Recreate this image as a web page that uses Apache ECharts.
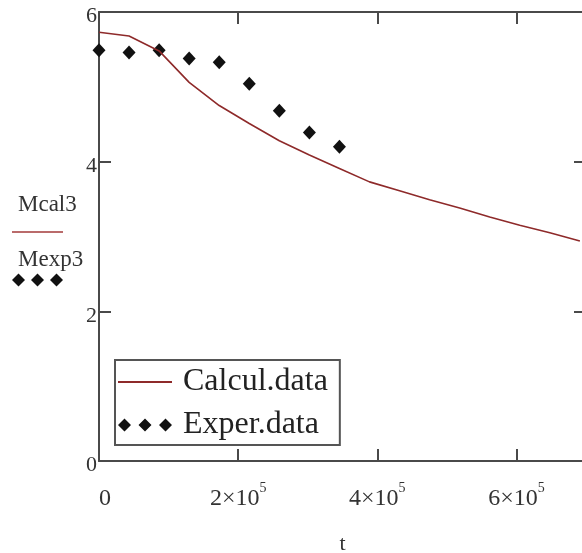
<!DOCTYPE html>
<html><head><meta charset="utf-8">
<script src="https://cdn.jsdelivr.net/npm/echarts@6/dist/echarts.min.js"></script>
<style>html,body{margin:0;padding:0;background:#fff}#c{width:582px;height:553px}</style>
</head><body><div id="c"></div>
<script>
// time values (s)
var calcT = [0, 43200, 86400, 129600, 172800, 216000, 259200, 302400, 345600, 388800, 432000, 475200, 518400, 561600, 604800, 648000, 691200];
var calcM = [5.73, 5.68, 5.48, 5.06, 4.75, 4.51, 4.28, 4.09, 3.91, 3.73, 3.61, 3.49, 3.38, 3.26, 3.15, 3.05, 2.94];
var expT = [0, 43200, 86400, 129600, 172800, 216000, 259200, 302400, 345600];
var expM = [5.49, 5.46, 5.49, 5.38, 5.33, 5.04, 4.68, 4.39, 4.20];
var xTicks = [0, 200000, 400000, 600000];
var yTicks = [0, 2, 4, 6];
var seriesNames = ['Calcul.data', 'Exper.data'];

var FONT = '"Liberation Serif", "DejaVu Serif", serif';
var AX = '#4a4a4a';
var diamonds3 = 'path://M0,6.5L6.5,0L13,6.5L6.5,13Z M20.5,6.5L27,0L33.5,6.5L27,13Z M41,6.5L47.5,0L54,6.5L47.5,13Z';
var lineIcon = 'path://M0,0H54V1.8H0Z';

function zip(a, b) { return a.map(function (v, i) { return [v, b[i]]; }); }
function diamond(cx, cy, r) {
  return {type: 'polygon', shape: {points: [[cx - r, cy], [cx, cy - r], [cx + r, cy], [cx, cy + r]]}, style: {fill: '#111'}};
}

var chart = echarts.init(document.getElementById('c'), null, {renderer: 'canvas'});
var axisCommon = {
  axisLine: {show: true, onZero: false, lineStyle: {color: AX, width: 2}},
  axisTick: {show: true, inside: true, length: 12, lineStyle: {color: AX, width: 2}},
  splitLine: {show: false}
};
chart.setOption({
  animation: false,
  grid: {left: 99, top: 12, width: 487, bottom: 92, containLabel: false, outerBoundsMode: 'none'},
  xAxis: [
    Object.assign({}, axisCommon, {
      type: 'value', min: 0, max: 700000, interval: 200000, position: 'bottom',
      name: 't', nameLocation: 'middle', nameGap: 72,
      nameTextStyle: {fontFamily: FONT, fontSize: 22, color: '#333'},
      axisLabel: {
        margin: 20, color: '#333', fontFamily: FONT,
        formatter: function (v) {
          if (xTicks.indexOf(v) < 0) return '';
          if (v === 0) return '{z|0}';
          return '{b|' + (v / 100000) + '×10}{s|5}';
        },
        rich: {
          z: {fontFamily: FONT, fontSize: 24, color: '#333', verticalAlign: 'bottom', lineHeight: 30, padding: [0, 0, 0, 12]},
          b: {fontFamily: FONT, fontSize: 24, color: '#333', verticalAlign: 'bottom', lineHeight: 30},
          s: {fontFamily: FONT, fontSize: 14, color: '#333', verticalAlign: 'top', lineHeight: 30}
        }
      }
    }),
    Object.assign({}, axisCommon, {
      type: 'value', min: 0, max: 700000, interval: 200000, position: 'top',
      axisLabel: {show: false}
    })
  ],
  yAxis: [
    Object.assign({}, axisCommon, {
      type: 'value', min: 0, max: 6, interval: 2, position: 'left',
      axisLabel: {
        margin: 2, color: '#333', fontFamily: FONT, fontSize: 22,
        verticalAlign: 'top', lineHeight: 9,
        formatter: function (v) { return yTicks.indexOf(v) >= 0 ? String(v) : ''; }
      }
    }),
    Object.assign({}, axisCommon, {
      type: 'value', min: 0, max: 6, interval: 2, position: 'right',
      axisLabel: {show: false}
    })
  ],
  legend: {
    orient: 'vertical', left: 115, top: 360,
    padding: [6, 12, 4, 3],
    borderColor: '#555', borderWidth: 2,
    itemWidth: 54, itemHeight: 15, itemGap: 11,
    textStyle: {fontFamily: FONT, fontSize: 32, color: '#222', padding: [0, 0, 0, 6]},
    data: [
      {name: seriesNames[0], icon: lineIcon},
      {name: seriesNames[1], icon: diamonds3, itemStyle: {color: '#111', opacity: 1}}
    ]
  },
  graphic: [
    {type: 'text', x: 18, y: 193, style: {text: 'Mcal3', font: '23px ' + FONT, fill: '#333'}},
    {type: 'line', shape: {x1: 12, y1: 232, x2: 63, y2: 232}, style: {stroke: '#a33a3a', lineWidth: 1.5}},
    {type: 'text', x: 18, y: 248, style: {text: 'Mexp3', font: '23px ' + FONT, fill: '#333'}},
    diamond(18.5, 280, 6.5), diamond(37.5, 280, 6.5), diamond(56.5, 280, 6.5)
  ],
  series: [
    {
      name: seriesNames[0], type: 'line', data: zip(calcT, calcM),
      showSymbol: false, symbol: 'none',
      lineStyle: {color: '#8e2a2a', width: 1.6}, itemStyle: {color: '#8e2a2a'}
    },
    {
      name: seriesNames[1], type: 'scatter', data: zip(expT, expM),
      symbol: 'diamond', symbolSize: [13, 14],
      itemStyle: {color: '#111', opacity: 1}
    }
  ]
});
</script></body></html>
